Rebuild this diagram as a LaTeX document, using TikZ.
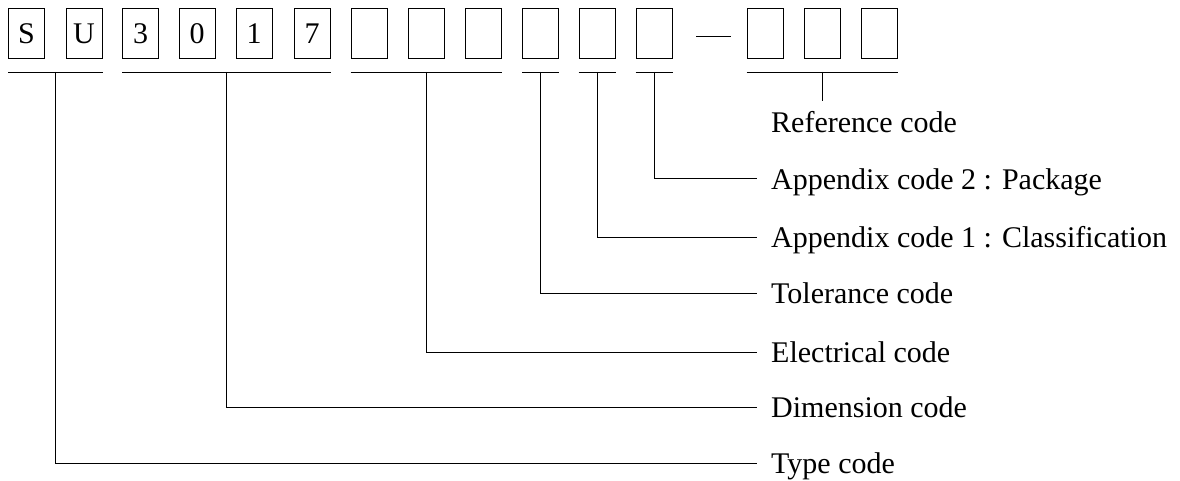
\documentclass[tikz,border=0pt]{standalone}
\usepackage{fontspec}
\setmainfont{Liberation Serif}
\usetikzlibrary{calc}
\tikzset{
  cell/.style={draw, line width=1pt, minimum width=36pt, minimum height=50pt, inner sep=0pt, font=\fontsize{30}{36}\selectfont},
  lbl/.style={anchor=base west, inner sep=0pt, font=\fontsize{30}{36}\selectfont},
  wire/.style={line width=1pt}
}
\begin{document}
\begin{tikzpicture}[x=1pt,y=-1pt]
\useasboundingbox (0,0) rectangle (1180,481);
% boxes
\node[cell] (c1) at (26.5,34) {S};
\node[cell] (c2) at (84,34) {U};
\node[cell] (c3) at (140.5,34) {3};
\node[cell] (c4) at (197,34) {0};
\node[cell] (c5) at (254,34) {1};
\node[cell] (c6) at (312,34) {7};
\node[cell] (c7) at (369,34) {};
\node[cell] (c8) at (426,34) {};
\node[cell] (c9) at (483,34) {};
\node[cell] (c10) at (540.5,34) {};
\node[cell] (c11) at (597,34) {};
\node[cell] (c12) at (654,34) {};
\node[cell] (r1) at (765,34) {};
\node[cell] (r2) at (822,34) {};
\node[cell] (r3) at (879,34) {};
% dash
\coordinate (dL) at (696,37);
\coordinate (dR) at (731,37);
\draw[wire] (dL) -- (dR);
% underlines
\draw[wire] ($(c1.south west)+(0,13)$) coordinate (uSUa) -- ($(c2.south east)+(0,13)$) coordinate (uSUb);
\draw[wire] ($(c3.south west)+(0,13)$) -- ($(c6.south east)+(0,13)$);
\draw[wire] ($(c7.south west)+(0,13)$) -- ($(c9.south east)+(0,13)$);
\draw[wire] ($(c10.south west)+(0,13)$) -- ($(c10.south east)+(0,13)$);
\draw[wire] ($(c11.south west)+(0,13)$) -- ($(c11.south east)+(0,13)$);
\draw[wire] ($(c12.south west)+(0,13)$) -- ($(c12.south east)+(0,13)$);
\draw[wire] ($(r1.south west)+(0,13)$) -- ($(r3.south east)+(0,13)$);
% group taps
\coordinate (gType) at (55,72);
\coordinate (gDim) at (226.5,72);
\coordinate (gElec) at (426,72);
\coordinate (gTol) at (540.5,72);
\coordinate (gAp1) at (597,72);
\coordinate (gAp2) at (654,72);
\coordinate (gRef) at (822,72);
% line ends
\coordinate (eAp2) at (757,179);
\coordinate (eAp1) at (757,237);
\coordinate (eTol) at (757,293);
\coordinate (eElec) at (757,352);
\coordinate (eDim) at (757,407);
\coordinate (eType) at (757,463);
\coordinate (eRef) at (822,101);
% labels
\node[lbl] (tRef) at (771,133) {Reference code};
\node[lbl] (tAp2) at (771,189.5) {Appendix code 2 : Package};
\node[lbl] (tAp1) at (771,247.5) {Appendix code 1 : Classification};
\node[lbl] (tTol) at (771,303.5) {Tolerance code};
\node[lbl] (tElec) at (771,362.5) {Electrical code};
\node[lbl] (tDim) at (771,417.5) {Dimension code};
\node[lbl] (tType) at (771,473.5) {Type code};
% connectors
\draw[wire] (gRef) -- (eRef);
\draw[wire] (gAp2) |- (eAp2);
\draw[wire] (gAp1) |- (eAp1);
\draw[wire] (gTol) |- (eTol);
\draw[wire] (gElec) |- (eElec);
\draw[wire] (gDim) |- (eDim);
\draw[wire] (gType) |- (eType);
\end{tikzpicture}
\end{document}
